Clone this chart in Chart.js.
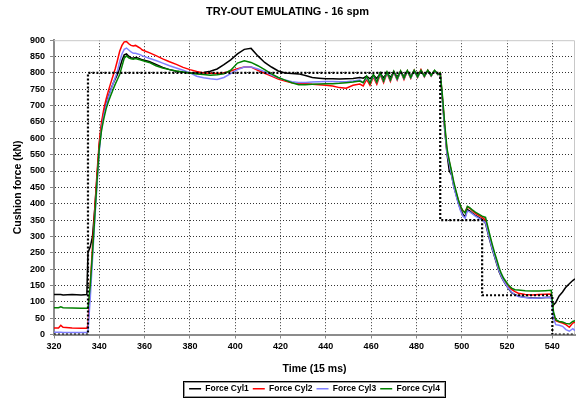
<!DOCTYPE html>
<html><head><meta charset="utf-8">
<script src="https://cdn.jsdelivr.net/npm/chart.js@4.4.1/dist/chart.umd.min.js"></script>
<style>html,body{margin:0;padding:0;background:#fff}#wrap{width:579px;height:403px}</style>
</head><body><div id="wrap"><canvas id="c" width="579" height="403"></canvas></div>
<script>
// ---- data ----
const time = [
  320, 322, 323, 324, 328, 332, 334.5,
  335, 336, 337, 338, 339, 340, 341, 342, 343, 344, 345, 346, 347, 348, 349, 350, 351, 352, 353, 354, 355, 356, 357, 358,
  359, 362, 365, 368, 371, 374, 377, 380, 383, 386, 389, 392, 395, 398, 401, 404, 407, 410, 413, 416, 419, 422, 425, 428, 431, 434, 437, 440, 443, 446, 449, 452, 455,
  456.5, 458, 459.5, 461, 462.5, 464, 465.5, 467, 468.5, 470, 471.5, 473, 474.5, 476, 477.5, 479, 480.5, 482, 483.5, 485, 486.5, 488, 489.5,
  490.5, 491.5, 492.5, 493.5, 494.5, 495.5, 496.5, 497.5, 498.5, 499.5, 500.5, 501.5, 502.5, 503.5, 504.5, 506, 507.5, 509, 510.5, 511.5, 512.5, 513.5, 514.5, 515.5, 516.5, 517.5, 518.5, 519.5, 520.5, 522, 523.5,
  525, 528, 531, 534, 537, 539.5,
  540.5, 541.5, 543, 544.5, 546, 547.5, 549, 550
];
const cyl1 = [
  122, 122, 122, 121, 122, 121, 122,
  250, 268, 300, 385, 482, 580, 640, 680, 705, 728, 748, 766, 781, 795, 815, 838, 855, 858, 851, 846, 845, 847, 846, 843,
  840, 835, 826, 817, 810, 805, 802, 800, 800, 801, 805, 812, 825, 840, 858, 872, 875, 852, 832, 818, 806, 800, 798, 797, 792, 786, 784, 782, 782, 781, 782, 783, 786,
  784, 790, 782, 793, 783, 798, 785, 801, 786, 803, 788, 804, 789, 805, 790, 806, 791, 806, 792, 806, 793, 806, 797,
  798, 715, 625, 552, 500, 488, 452, 428, 402, 382, 368, 360, 382, 378, 372, 364, 358, 352, 340, 312, 285, 260, 238, 215, 192, 176, 163, 152, 142, 128, 122,
  118, 114, 112, 112, 113, 114,
  90, 98, 118, 130, 145, 155, 165, 170
];
const cyl2 = [
  20, 20, 28, 22, 20, 19, 19,
  30, 150, 270, 385, 495, 590, 650, 690, 720, 745, 768, 790, 812, 838, 866, 884, 895, 896, 889, 884, 882, 884, 880, 876,
  870, 862, 853, 843, 834, 826, 817, 810, 804, 800, 799, 798, 800, 806, 813, 818, 818, 808, 799, 790, 781, 775, 770, 768, 767, 765, 764, 762, 760, 755, 753, 762, 766,
  760, 780, 762, 788, 765, 795, 770, 800, 774, 803, 778, 805, 780, 806, 783, 808, 786, 810, 788, 808, 790, 806, 795,
  800, 722, 635, 560, 528, 495, 460, 434, 410, 390, 378, 375, 390, 386, 380, 370, 364, 358, 350, 322, 295, 268, 245, 222, 198, 182, 168, 158, 148, 138, 131,
  126, 122, 121, 122, 123, 124,
  60, 42, 38, 35, 30, 22, 35, 38
];
const cyl3 = [
  7, 7, 7, 6, 6, 6, 6,
  10, 110, 230, 350, 460, 560, 630, 670, 700, 725, 745, 765, 785, 805, 835, 858, 872, 876, 870, 864, 860, 860, 858, 856,
  852, 845, 838, 830, 822, 815, 808, 800, 790, 785, 782, 780, 786, 798, 810, 818, 818, 812, 804, 793, 785, 778, 773, 771, 771, 772, 773, 774, 774, 773, 773, 775, 778,
  770, 785, 770, 790, 772, 797, 775, 800, 778, 803, 780, 804, 783, 805, 785, 806, 787, 806, 789, 806, 791, 806, 795,
  798, 718, 628, 555, 522, 488, 452, 426, 400, 378, 362, 356, 378, 375, 370, 362, 356, 350, 342, 315, 288, 262, 240, 218, 194, 178, 164, 153, 143, 130, 122,
  116, 113, 111, 112, 113, 114,
  50, 30, 28, 25, 15, 10, 18, 12
];
const cyl4 = [
  82, 82, 85, 82, 81, 80, 80,
  80, 150, 250, 360, 470, 570, 625, 660, 690, 712, 730, 748, 765, 780, 795, 820, 845, 852, 846, 843, 842, 844, 842, 840,
  838, 832, 822, 815, 810, 806, 803, 800, 797, 795, 793, 794, 797, 808, 830, 837, 832, 822, 810, 797, 786, 778, 770, 764, 764, 765, 766, 767, 767, 768, 770, 772, 775,
  770, 790, 768, 795, 772, 800, 775, 803, 778, 805, 782, 806, 784, 807, 786, 808, 788, 808, 790, 808, 792, 808, 795,
  800, 728, 642, 568, 532, 500, 466, 438, 412, 392, 378, 372, 392, 388, 382, 374, 368, 362, 358, 330, 302, 275, 250, 228, 204, 186, 172, 162, 152, 142, 137,
  136, 134, 133, 133, 134, 135,
  70, 45, 40, 38, 34, 32, 40, 42
];
const refTime  = [320, 335, 335, 490.5, 490.5, 509, 509, 540, 540, 550];
const refForce = [0,   0,   800, 800,   350,   350, 120, 120, 0,   0];
const seriesNames = ['Force Cyl1', 'Force Cyl2', 'Force Cyl3', 'Force Cyl4'];
const xTickValues = [320, 340, 360, 380, 400, 420, 440, 460, 480, 500, 520, 540];
const yTickValues = [0, 50, 100, 150, 200, 250, 300, 350, 400, 450, 500, 550, 600, 650, 700, 750, 800, 850, 900];

// ---- chart ----
const FONT = "'Liberation Sans', Arial, sans-serif";
const toPts = (xs, ys) => xs.map((x, i) => ({ x: x, y: ys[i] }));
const colors = ['#000000', '#ff0000', '#8080ff', '#008000'];
const series = [cyl1, cyl2, cyl3, cyl4];

const datasets = series.map((s, i) => ({
  label: seriesNames[i],
  data: toPts(time, s),
  borderColor: colors[i],
  backgroundColor: colors[i],
  borderWidth: 1.5,
  pointRadius: 0,
  tension: 0,
  order: 4 - i
}));
datasets.push({
  label: 'Reference',
  data: toPts(refTime, refForce),
  borderColor: '#000000',
  borderWidth: 2.2,
  borderDash: [2, 2],
  pointRadius: 0,
  tension: 0,
  order: 0
});

const framePlugin = {
  id: 'frame',
  beforeDatasetsDraw(chart) {
    const { ctx, chartArea: a } = chart;
    ctx.save();
    ctx.strokeStyle = '#c8c8c8';
    ctx.lineWidth = 1;
    ctx.beginPath();
    ctx.moveTo(a.left, a.top + 0.5);
    ctx.lineTo(a.right - 0.5, a.top + 0.5);
    ctx.lineTo(a.right - 0.5, a.bottom);
    ctx.stroke();
    ctx.restore();
  },
  afterDraw(chart) {
    const boxes = chart.legend && chart.legend.legendHitBoxes;
    if (!boxes || !boxes.length) return;
    const ctx = chart.ctx;
    const l = Math.min(...boxes.map(b => b.left));
    const r = Math.max(...boxes.map(b => b.left + b.width));
    const t = Math.min(...boxes.map(b => b.top));
    const bt = Math.max(...boxes.map(b => b.top + b.height));
    ctx.save();
    ctx.strokeStyle = '#000';
    ctx.lineWidth = 1;
    ctx.strokeRect(Math.round(l - 6) + 0.5, Math.round(t - 4) + 0.5, Math.round(r - l + 11), Math.round(bt - t + 7));
    ctx.strokeStyle = '#999';
    ctx.strokeRect(Math.round(l - 5) + 0.5, Math.round(t - 3) + 0.5, Math.round(r - l + 9), Math.round(bt - t + 5));
    ctx.restore();
  }
};

new Chart(document.getElementById('c'), {
  type: 'line',
  data: { datasets: datasets },
  plugins: [framePlugin],
  options: {
    responsive: false,
    animation: false,
    devicePixelRatio: 1,
    layout: { padding: { left: 0, right: 4, top: 0, bottom: 0 } },
    plugins: {
      title: {
        display: true,
        text: 'TRY-OUT EMULATING - 16 spm',
        color: '#000',
        font: { family: FONT, size: 11, weight: 'bold' },
        padding: { top: 5, bottom: 22 }
      },
      legend: {
        position: 'bottom',
        fullSize: false,
        labels: {
          color: '#000',
          font: { family: FONT, size: 8.5, weight: 'bold' },
          usePointStyle: true,
          pointStyle: 'line',
          pointStyleWidth: 12,
          boxHeight: 9,
          padding: 4,
          filter: item => item.datasetIndex < 4,
          sort: (a, b) => a.datasetIndex - b.datasetIndex
        }
      },
      tooltip: { enabled: false }
    },
    scales: {
      x: {
        type: 'linear',
        min: 320,
        max: 550,
        afterBuildTicks: sc => { sc.ticks = xTickValues.map(v => ({ value: v })); },
        afterFit: sc => { sc.height = 46; },
        ticks: { color: '#000', font: { family: FONT, size: 9, weight: 'bold' }, padding: 3, maxRotation: 0, autoSkip: false },
        grid: {
          color: c => (c.tick && c.tick.value === 320) ? 'rgba(0,0,0,0)' : '#333',
          lineWidth: 1,
          tickLength: 4,
          tickColor: '#888'
        },
        border: { display: true, color: '#8c8c8c', width: 2, dash: [1, 2] },
        title: { display: true, text: 'Time (15 ms)', color: '#000', font: { family: FONT, size: 10.5, weight: 'bold' }, padding: { top: 0, bottom: 5 } }
      },
      y: {
        min: 0,
        max: 900,
        afterBuildTicks: sc => { sc.ticks = yTickValues.map(v => ({ value: v })); },
        afterFit: sc => { sc.width = 54; },
        ticks: { color: '#000', font: { family: FONT, size: 9, weight: 'bold' }, padding: 5 },
        grid: {
          color: c => (c.tick && (c.tick.value === 0 || c.tick.value === 900)) ? 'rgba(0,0,0,0)' : '#333',
          lineWidth: 1,
          tickLength: 4,
          tickColor: '#888'
        },
        border: { display: true, color: '#8c8c8c', width: 2, dash: [1, 2] },
        title: { display: true, text: 'Cushion force (kN)', color: '#000', font: { family: FONT, size: 10.5, weight: 'bold' }, padding: { top: 12, bottom: 0 } }
      }
    }
  }
});
</script>
</body></html>
